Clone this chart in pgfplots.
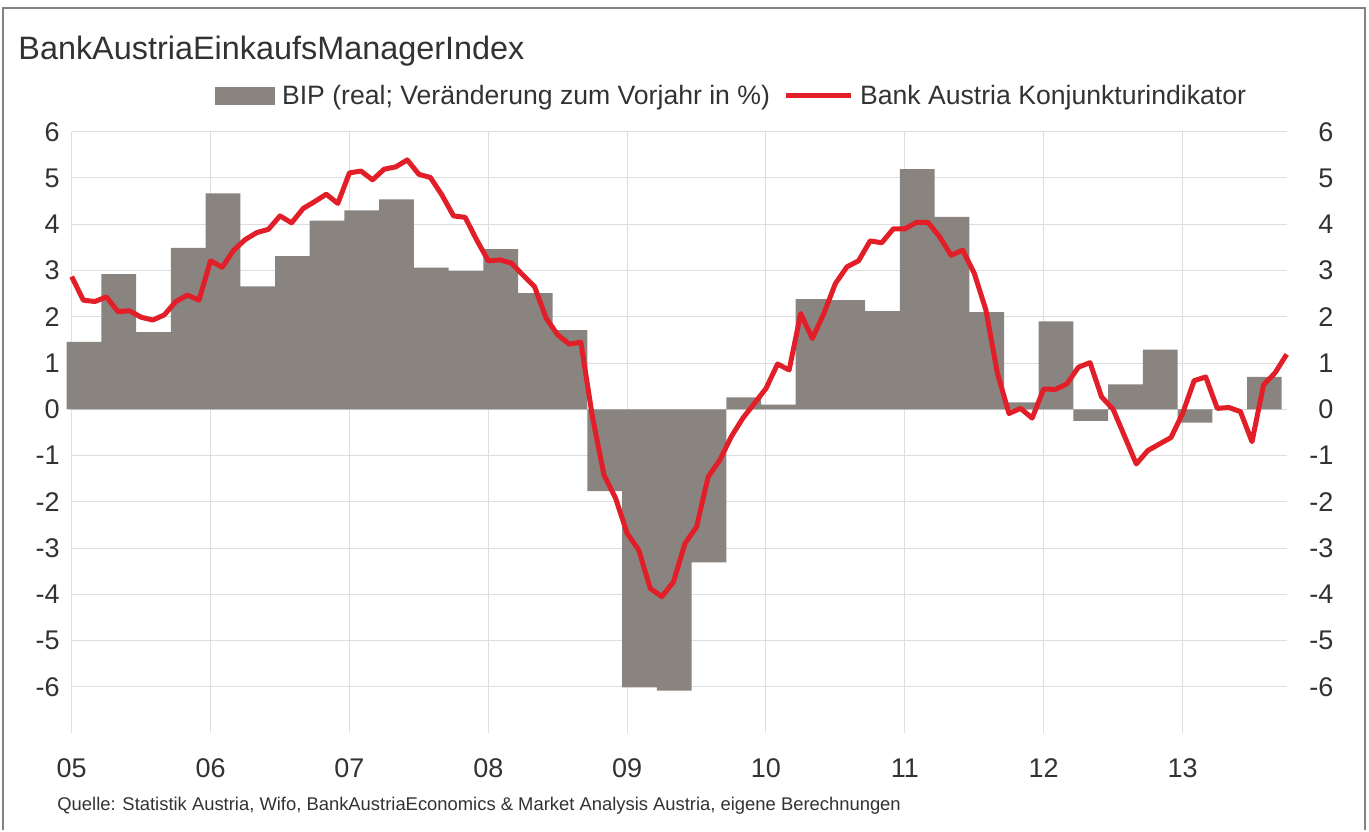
\documentclass[border=0pt]{standalone}
\usepackage{fontspec}
\setmainfont{Liberation Sans}
\usepackage{pgfplots}
\pgfplotsset{compat=1.18}
\definecolor{bargray}{RGB}{138,132,129}
\definecolor{kred}{RGB}{226,30,40}
\definecolor{gridgray}{RGB}{222,222,222}
\definecolor{txt}{RGB}{50,50,50}
\definecolor{framec}{RGB}{130,130,130}
\begin{document}
\begin{tikzpicture}
\path (0pt,0pt) rectangle (684.5pt,415pt);
\draw[framec, line width=1pt] (1.5pt,0pt) -- (1.5pt,411pt) -- (682.5pt,411pt) -- (682.5pt,0pt);
\node[anchor=base west, inner sep=0pt, font=\fontsize{16.2pt}{19pt}\selectfont, text=txt] at (9pt,385pt) {BankAustriaEinkaufsManagerIndex};
\node[anchor=base west, inner sep=0pt, font=\fontsize{9.2pt}{11pt}\selectfont, text=txt] at (28.5pt,10pt) {Quelle: Statistik Austria, Wifo, BankAustriaEconomics \& Market Analysis Austria, eigene Berechnungen};
\begin{axis}[
  at={(35.85pt,48.4pt)}, anchor=south west,
  scale only axis, width=607.5pt, height=300.75pt,
  xmin=0, xmax=105, ymin=-7, ymax=6,
  clip=false,
  axis line style={draw=none},
  major tick length=0pt,
  xmajorgrids, ymajorgrids,
  major grid style={gridgray, line width=0.5pt},
  xtick={0,12,...,96},
  xticklabels={05,06,07,08,09,10,11,12,13},
  ytick={-6,-5,...,6},
  yticklabels={-6,-5,-4,-3,-2,-1,0,1,2,3,4,5,6},
  tick label style={font=\fontsize{13.5pt}{16pt}\selectfont, text=txt, inner sep=0pt},
  xticklabel style={anchor=base, yshift=-22.3pt},
  yticklabel style={anchor=east, xshift=-5.85pt},
  legend columns=2,
  legend style={at={(axis description cs:0.1180,1.0594)}, anchor=west, draw=none, fill=none, inner sep=0pt, font=\fontsize{13.3pt}{16pt}\selectfont, text=txt, nodes={inner sep=3.3pt}, /tikz/every even column/.append style={column sep=3.5pt}},
]
\addplot[ybar, bar width=3, bar shift=0pt, fill=bargray, draw=none,
  legend image code/.code={\fill[bargray] (0pt,-4.5pt) rectangle (30pt,4.5pt);}]
coordinates {
(1.07,1.46) (4.07,2.92) (7.07,1.67) (10.07,3.49)
(13.07,4.67) (16.07,2.66) (19.07,3.31) (22.07,4.08)
(25.07,4.30) (28.07,4.54) (31.07,3.06) (34.07,2.99)
(37.07,3.46) (40.07,2.51) (43.07,1.71) (46.07,-1.77)
(49.07,-6.01) (52.07,-6.08) (55.07,-3.31) (58.07,0.26)
(61.07,0.10) (64.07,2.38) (67.07,2.36) (70.07,2.12)
(73.07,5.19) (76.07,4.16) (79.07,2.10) (82.07,0.15)
(85.07,1.90) (88.07,-0.25) (91.07,0.54) (94.07,1.29)
(97.07,-0.29) (100.07,0) (103.07,0.70)
};
\addlegendentry{BIP (real; Veränderung zum Vorjahr in \%)}
\addplot[kred, line width=2.5pt, line join=round, mark=none,
  legend image code/.code={\draw[kred, line width=2.5pt] (0pt,0pt) -- (32.5pt,0pt);}]
coordinates {
(0,2.87) (1,2.36) (2,2.33) (3,2.43) (4,2.11) (5,2.13) (6,1.99) (7,1.93) (8,2.04) (9,2.33) (10,2.47) (11,2.36)
(12,3.21) (13,3.07) (14,3.44) (15,3.67) (16,3.82) (17,3.89) (18,4.18) (19,4.03) (20,4.34) (21,4.49) (22,4.65) (23,4.45)
(24,5.11) (25,5.15) (26,4.96) (27,5.19) (28,5.24) (29,5.39) (30,5.08) (31,5.01) (32,4.63) (33,4.18) (34,4.15) (35,3.66)
(36,3.21) (37,3.23) (38,3.16) (39,2.90) (40,2.65) (41,1.97) (42,1.61) (43,1.41) (44,1.45) (45,-0.16) (46,-1.42) (47,-1.92)
(48,-2.68) (49,-3.04) (50,-3.87) (51,-4.05) (52,-3.73) (53,-2.90) (54,-2.54) (55,-1.46) (56,-1.10) (57,-0.59) (58,-0.19) (59,0.13)
(60,0.45) (61,0.98) (62,0.85) (63,2.07) (64,1.53) (65,2.07) (66,2.72) (67,3.08) (68,3.21) (69,3.64) (70,3.60) (71,3.90)
(72,3.90) (73,4.04) (74,4.04) (75,3.73) (76,3.33) (77,3.44) (78,2.94) (79,2.15) (80,0.78) (81,-0.09) (82,0.02) (83,-0.19)
(84,0.44) (85,0.43) (86,0.55) (87,0.91) (88,1.01) (89,0.27) (90,0.00) (91,-0.59) (92,-1.18) (93,-0.89) (94,-0.75) (95,-0.61)
(96,-0.09) (97,0.62) (98,0.70) (99,0.02) (100,0.04) (101,-0.05) (102,-0.70) (103,0.53) (104,0.79) (105,1.19)
};
\addlegendentry{Bank Austria Konjunkturindikator}
\end{axis}
\begin{axis}[
  at={(35.85pt,48.4pt)}, anchor=south west,
  scale only axis, width=607.5pt, height=300.75pt,
  xmin=0, xmax=105, ymin=-7, ymax=6,
  axis line style={draw=none},
  major tick length=0pt,
  xtick=\empty,
  yticklabel pos=right,
  ytick={-6,-5,...,6},
  yticklabels={-6,-5,-4,-3,-2,-1,0,1,2,3,4,5,6},
  tick label style={font=\fontsize{13.5pt}{16pt}\selectfont, text=txt, inner sep=0pt},
  yticklabel style={anchor=east, xshift=23.5pt},
]
\addplot[draw=none] coordinates {(0,0)};
\end{axis}
\end{tikzpicture}
\end{document}
